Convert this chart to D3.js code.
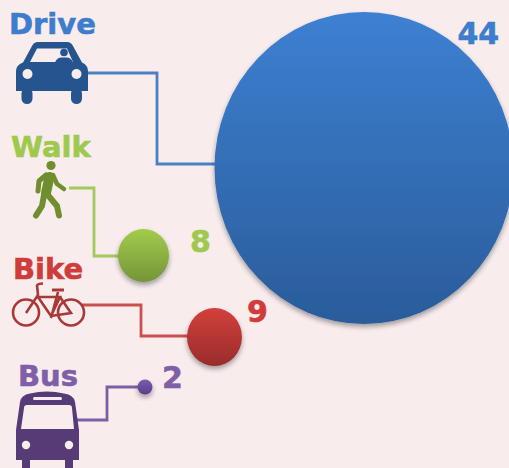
<!DOCTYPE html>
<html><head><meta charset="utf-8">
<script src="https://cdn.jsdelivr.net/npm/d3@7/dist/d3.min.js"></script>
<style>html,body{margin:0;padding:0;background:#f8eced;overflow:hidden}svg{display:block}text{font-family:"DejaVu Sans";font-weight:700;font-size:29px;stroke-width:.6px}text.n{font-size:30px}</style>
</head><body><script>
const categories=["Drive","Walk","Bike","Bus"];
const values=[44,8,9,2];
const lightColors=["#3d80d2","#a2cc4b","#d2403c","#7a5cae"];
const darkColors=["#2a5c9a","#74953a","#992c2a","#5a3f8c"];
const labelColors=["#3d7dcc","#9fc94c","#cf3c3a","#7f60a8"];
const lineColors=["#4a80c4","#a3c85c","#c9504e","#7a5ea6"];
const iconColors=["#25548f","#6f8f2e","#a93836","#573b76"];

const W=509,H=468;
const svg=d3.select("body").append("svg").attr("width",W).attr("height",H);
const defs=svg.append("defs");
const f=defs.append("filter").attr("id","sh").attr("x","-30%").attr("y","-30%").attr("width","160%").attr("height","170%");
f.append("feDropShadow").attr("dx",0).attr("dy",3).attr("stdDeviation",2.5).attr("flood-color","#000").attr("flood-opacity",.35);
categories.forEach((c,i)=>{
  const g=defs.append("linearGradient").attr("id","g"+i).attr("x1",0).attr("y1",0).attr("x2",0).attr("y2",1);
  g.append("stop").attr("offset",0).attr("stop-color",lightColors[i]);
  g.append("stop").attr("offset",1).attr("stop-color",darkColors[i]);
});
// layout scales
const rx=d3.scaleLinear().domain([2,8,9,44]).range([7.5,25.5,27.5,149.5]);
const ry=d3.scaleLinear().domain([2,8,9,44]).range([7.5,26.5,29,156]);
const cx=d3.scaleOrdinal(categories,[364,143.5,214.5,145]);
const cy=d3.scaleOrdinal(categories,[168,255.5,337,387]);
const labelX=d3.scaleOrdinal(categories,[9,11,13,18]);
const labelY=d3.scaleOrdinal(categories,[34,157,279,386]);
const numX=d3.scaleOrdinal(categories,[457.5,190,247,162]);
const numY=d3.scaleOrdinal(categories,[44,252,322,388]);
const linePath=d3.scaleOrdinal(categories,[[88,73,157,164],[69,188,94,256],[82,305,141,336],[77,420,107,387]]);

// connectors
svg.selectAll("path.link").data(categories).join("path").attr("class","link")
 .attr("fill","none").attr("stroke-width",2.8).attr("stroke",(d,i)=>lineColors[i])
 .attr("d",d=>{const [x0,y0,xm,y1]=linePath(d);return d3.line()([[x0,y0],[xm,y0],[xm,y1],[cx(d),y1]]);});
// bubbles
svg.selectAll("ellipse").data(categories).join("ellipse")
 .attr("cx",cx).attr("cy",cy).attr("rx",(d,i)=>rx(values[i])).attr("ry",(d,i)=>ry(values[i]))
 .attr("fill",(d,i)=>`url(#g${i})`).attr("filter","url(#sh)");
// labels
svg.selectAll("text.l").data(categories).join("text").attr("class","l").attr("x",labelX).attr("y",labelY)
 .attr("fill",(d,i)=>labelColors[i]).attr("stroke",(d,i)=>labelColors[i]).text(d=>d);
svg.selectAll("text.n").data(categories).join("text").attr("class","n").attr("x",numX).attr("y",numY)
 .attr("fill",(d,i)=>labelColors[i]).attr("stroke",(d,i)=>labelColors[i]).text((d,i)=>values[i]);

// icons
const bg="#f8eced";
// car
const car=svg.append("g").attr("fill",iconColors[0]);
car.append("path").attr("d","M16 71Q16 65 23 62.5L32 46Q34 42 38 42H67Q71 42 73 46L82 62.5Q88 65 88 71V91H16Z");
car.append("rect").attr("x",21.5).attr("y",88).attr("width",11).attr("height",16).attr("rx",5.5);
car.append("rect").attr("x",71).attr("y",88).attr("width",11).attr("height",16).attr("rx",5.5);
car.append("path").attr("fill",bg).attr("d","M30 62L37 48.5H67L73 62Z");
car.append("circle").attr("cx",27.5).attr("cy",74).attr("r",5).attr("fill",bg);
car.append("circle").attr("cx",76.5).attr("cy",74).attr("r",5).attr("fill",bg);
car.append("circle").attr("cx",64).attr("cy",52.5).attr("r",3.8);
car.append("path").attr("d","M55 63Q56 58 61 57.5H67Q72 58 73 63Z");
// walker
const walk=svg.append("g").attr("fill","none").attr("stroke",iconColors[1]).attr("stroke-linecap","round").attr("stroke-linejoin","round");
walk.append("circle").attr("cx",51).attr("cy",165.5).attr("r",4.6).attr("fill",iconColors[1]).attr("stroke","none");
walk.append("path").attr("stroke-width",10).attr("d","M49.5 177L46 193");
walk.append("path").attr("stroke-width",5).attr("d","M46 175L39 181L38 191");
walk.append("path").attr("stroke-width",4.5).attr("d","M53 175L57 184L64 189");
walk.append("path").attr("stroke-width",6).attr("d","M44 195L42 206L36 215.5");
walk.append("path").attr("stroke-width",6).attr("d","M47 194L57 206L59 215.5");
// bike
const bike=svg.append("g").attr("fill","none").attr("stroke",iconColors[2]).attr("stroke-width",2.6);
bike.append("circle").attr("cx",26).attr("cy",312.5).attr("r",13);
bike.append("circle").attr("cx",71).attr("cy",312.5).attr("r",13);
bike.append("path").attr("d","M26 313L38 295L37 285.5Q38 283.5 43 283.5M38 297H60L51 316ZM58 292L51 318M60 297L71 313L51 316");
bike.append("path").attr("stroke-width",3).attr("d","M52 290H64");
// bus
const bus=svg.append("g").attr("fill",iconColors[3]);
bus.append("path").attr("d","M16 460V430L20 402Q21 395 30 393.5Q47 389.5 64 393.5Q74 395 75 402L79 430V460Z");
bus.append("rect").attr("x",22).attr("y",455).attr("width",8).attr("height",13);
bus.append("rect").attr("x",65).attr("y",455).attr("width",8).attr("height",13);
bus.append("path").attr("fill",bg).attr("d","M24 408Q24 405 27 405H69Q72 405 72 408L74 429H21Z");
bus.append("rect").attr("x",33).attr("y",397).attr("width",29).attr("height",3).attr("rx",1.5).attr("fill",bg);
bus.append("circle").attr("cx",26).attr("cy",445).attr("r",4.2).attr("fill",bg);
bus.append("circle").attr("cx",69).attr("cy",445).attr("r",4.2).attr("fill",bg);
</script></body></html>
